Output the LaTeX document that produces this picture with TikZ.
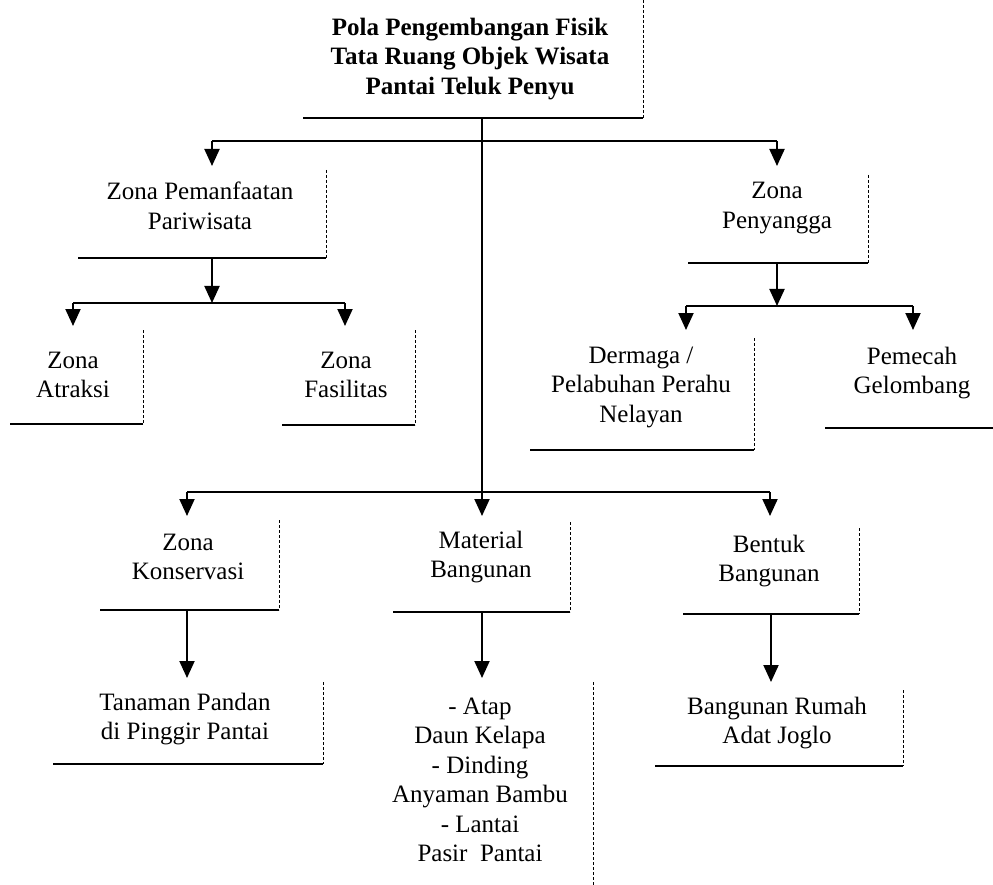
\documentclass[tikz,border=0pt]{standalone}
\usepackage{fontspec}
\setmainfont{Liberation Serif}
\usetikzlibrary{arrows.meta}
\begin{document}
\begin{tikzpicture}[x=1pt,y=-1pt,
  lbl/.style={align=center,font=\fontsize{25}{29.5}\selectfont,inner sep=0pt},
  ttl/.style={align=center,font=\fontsize{25}{29.5}\selectfont\bfseries,inner sep=0pt},
  conn/.style={line width=2pt},
  arr/.style={line width=2pt,-{Triangle[length=17pt,width=15pt]}},
  redge/.style={line width=0.8pt,dash pattern=on 3pt off 2pt},
  bedge/.style={line width=2.4pt}]
\useasboundingbox (0,0) rectangle (993,885);

% ---- text nodes
\node[ttl] (title) at (470,59) {Pola Pengembangan Fisik\\Tata Ruang Objek Wisata\\Pantai Teluk Penyu};
\node[lbl] (zp)  at (200,206) {Zona Pemanfaatan\\Pariwisata};
\node[lbl] (zpy) at (777,208) {Zona\\Penyangga};
\node[lbl] (za)  at (73,375)  {Zona\\Atraksi};
\node[lbl] (zf)  at (346,375) {Zona\\Fasilitas};
\node[lbl] (dm)  at (641,387) {Dermaga /\\Pelabuhan Perahu\\Nelayan};
\node[lbl] (pg)  at (912,373) {Pemecah\\Gelombang};
\node[lbl] (zk)  at (188,557) {Zona\\Konservasi};
\node[lbl] (mb)  at (481,557) {Material\\Bangunan};
\node[lbl] (bb)  at (769,561) {Bentuk\\Bangunan};
\node[lbl] (tp)  at (185,719) {Tanaman Pandan\\di Pinggir Pantai};
\node[lbl] (ml)  at (480,780) {- Atap\\Daun Kelapa\\- Dinding\\Anyaman Bambu\\- Lantai\\Pasir\ \ Pantai};
\node[lbl] (br)  at (777,723) {Bangunan Rumah\\Adat Joglo};

% ---- box edges (right edge dashed, bottom edge heavy)
\draw[redge] (643,0) -- (643,118);   \draw[bedge] (303,118) -- (643,118);
\draw[redge] (326,170) -- (326,258); \draw[bedge] (78,258) -- (326,258);
\draw[redge] (868,175) -- (868,263); \draw[bedge] (688,263) -- (868,263);
\draw[redge] (143,330) -- (143,424); \draw[bedge] (10,424) -- (143,424);
\draw[redge] (415,330) -- (415,425); \draw[bedge] (282,425) -- (415,425);
\draw[redge] (754,338) -- (754,450); \draw[bedge] (530,450) -- (754,450);
\draw[bedge] (825,428) -- (993,428);
\draw[redge] (279,520) -- (279,610); \draw[bedge] (100,610) -- (279,610);
\draw[redge] (570,522) -- (570,612); \draw[bedge] (393,612) -- (570,612);
\draw[redge] (859,528) -- (859,614); \draw[bedge] (683,614) -- (859,614);
\draw[redge] (323,682) -- (323,764); \draw[bedge] (53,764) -- (323,764);
\draw[redge] (593,682) -- (593,885);
\draw[redge] (903,690) -- (903,766); \draw[bedge] (655,766) -- (903,766);

% ---- connector coordinates
\coordinate (t0) at (482,118);
\coordinate (j1l) at (212,141); \coordinate (j1r) at (777,141);
\coordinate (zpin) at (212,166); \coordinate (zpyin) at (777,166);
\coordinate (j3) at (482,492);
\coordinate (j3l) at (187,492); \coordinate (j3r) at (770,492);
\coordinate (zkin) at (187,516); \coordinate (mbin) at (482,516); \coordinate (bbin) at (770,516);

\coordinate (zpout) at (212,258); \coordinate (j2) at (212,303);
\coordinate (j2l) at (73,303); \coordinate (j2r) at (345,303);
\coordinate (zain) at (73,326); \coordinate (zfin) at (345,326);

\coordinate (zpyout) at (777,263); \coordinate (j4) at (777,306);
\coordinate (j4l) at (686,306); \coordinate (j4r) at (913,306);
\coordinate (dmin) at (686,330); \coordinate (pgin) at (913,330);

\coordinate (zkout) at (187,610); \coordinate (tpin) at (187,678);
\coordinate (mbout) at (482,612); \coordinate (mlin) at (482,678);
\coordinate (bbout) at (771,614); \coordinate (brin) at (771,682);

% ---- connectors
\draw[conn] (t0) -- (j3);
\draw[conn] (j1l) -- (j1r);
\draw[arr] (j1l) -- (zpin);
\draw[arr] (j1r) -- (zpyin);
\draw[conn] (j3l) -- (j3r);
\draw[arr] (j3) -- (mbin);
\draw[arr] (j3l) -- (zkin);
\draw[arr] (j3r) -- (bbin);

\draw[arr] (zpout) -- (j2);
\draw[conn] (j2l) -- (j2r);
\draw[arr] (j2l) -- (zain);
\draw[arr] (j2r) -- (zfin);

\draw[arr] (zpyout) -- (j4);
\draw[conn] (j4l) -- (j4r);
\draw[arr] (j4l) -- (dmin);
\draw[arr] (j4r) -- (pgin);

\draw[arr] (zkout) -- (tpin);
\draw[arr] (mbout) -- (mlin);
\draw[arr] (bbout) -- (brin);
\end{tikzpicture}
\end{document}
